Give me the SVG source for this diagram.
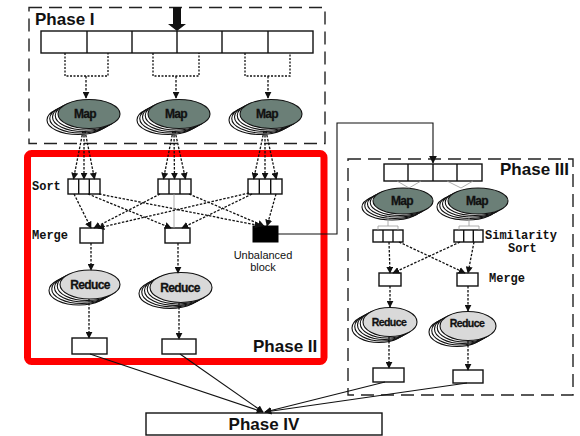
<svg xmlns="http://www.w3.org/2000/svg" width="580" height="436" viewBox="0 0 580 436">
  <style>
    .phase { fill: none; stroke: #222; stroke-width: 1.4; stroke-dasharray: 13 7; }
    .box { fill: #fff; stroke: #111; stroke-width: 1.4; }
    .cell { fill: none; stroke: #111; stroke-width: 1.4; }
    .dot { fill: none; stroke: #111; stroke-width: 1.3; stroke-dasharray: 2 1.5; }
    .dotarrow { fill: none; stroke: #111; stroke-width: 1.3; stroke-dasharray: 2.5 1.5; marker-end: url(#ah); }
    .solid { fill: none; stroke: #111; stroke-width: 1.1; }
    .thin { fill: none; stroke: #999; stroke-width: 0.8; }
    .back { fill: #fff; stroke: #111; stroke-width: 1.1; }
    .map { fill: #6b7f77; stroke: #111; stroke-width: 1.1; }
    .red { fill: #d9d9d9; stroke: #111; stroke-width: 1.1; }
    .title { font-family: "Liberation Sans", Arial, sans-serif; font-weight: bold; font-size: 17px; fill: #111; }
    .mono { font-family: "Liberation Mono", "Courier New", monospace; font-weight: bold; font-size: 12px; fill: #111; }
    .lbl { font-family: "Liberation Sans", Arial, sans-serif; font-weight: bold; font-size: 12px; fill: #111; text-anchor: middle; letter-spacing: -0.6px; stroke: #111; stroke-width: 0.3; }
    .plain { font-family: "Liberation Sans", Arial, sans-serif; font-size: 11px; fill: #111; text-anchor: middle; }
  </style>
  <defs>
    <marker id="ah" viewBox="0 0 10 10" refX="9" refY="5" markerWidth="7" markerHeight="7" markerUnits="userSpaceOnUse" orient="auto">
      <path d="M0,0 L10,5 L0,10 z" fill="#111"/>
    </marker>
    <marker id="ahs" viewBox="0 0 10 10" refX="9" refY="5" markerWidth="8" markerHeight="8" markerUnits="userSpaceOnUse" orient="auto">
      <path d="M0,0 L10,5 L0,10 z" fill="#111"/>
    </marker>
  </defs>

  <!-- Phase I -->
  <g id="phase1">
    <rect class="phase" x="29" y="7.5" width="296" height="136"/>
    <text class="title" x="35" y="25">Phase I</text>
  </g>
  <g id="input-array">
    <rect class="box" x="41" y="31" width="272" height="22"/>
    <path class="cell" d="M87,31V53M132,31V53M177,31V53M222,31V53M268,31V53"/>
  </g>
  <g id="input-arrow">
    <polygon points="173,7 181,7 181,24 186,24 177,31 168,24 173,24" fill="#111"/>
  </g>

  <!-- Map tasks, phase I -->
  <g id="map1">
    <ellipse class="back" cx="78" cy="120" rx="31" ry="14.5"/>
    <ellipse class="back" cx="80.75" cy="118.5" rx="31" ry="14.5"/>
    <ellipse class="back" cx="83.5" cy="117" rx="31" ry="14.5"/>
    <ellipse class="back" cx="86.25" cy="115.5" rx="31" ry="14.5"/>
    <ellipse class="map" cx="89" cy="114" rx="31" ry="14.5"/>
    <text class="lbl" x="85" y="118">Map</text>
  </g>
  <g id="map2">
    <ellipse class="back" cx="168" cy="120" rx="31" ry="14.5"/>
    <ellipse class="back" cx="170.75" cy="118.5" rx="31" ry="14.5"/>
    <ellipse class="back" cx="173.5" cy="117" rx="31" ry="14.5"/>
    <ellipse class="back" cx="176.25" cy="115.5" rx="31" ry="14.5"/>
    <ellipse class="map" cx="179" cy="114" rx="31" ry="14.5"/>
    <text class="lbl" x="176" y="118">Map</text>
  </g>
  <g id="map3">
    <ellipse class="back" cx="260" cy="120" rx="31" ry="14.5"/>
    <ellipse class="back" cx="262.75" cy="118.5" rx="31" ry="14.5"/>
    <ellipse class="back" cx="265.5" cy="117" rx="31" ry="14.5"/>
    <ellipse class="back" cx="268.25" cy="115.5" rx="31" ry="14.5"/>
    <ellipse class="map" cx="271" cy="114" rx="31" ry="14.5"/>
    <text class="lbl" x="267" y="118">Map</text>
  </g>

  <!-- Phase II -->
  <g id="phase2">
    <rect x="27.5" y="153.5" width="296.5" height="208" rx="4" fill="none" stroke="#ff0000" stroke-width="7"/>
    <text class="title" x="253" y="352">Phase II</text>
    <text class="mono" x="32" y="190">Sort</text>
    <text class="mono" x="32" y="239">Merge</text>
  </g>
  <g id="sort1">
    <rect class="box" x="68" y="179" width="32" height="15"/>
    <path class="cell" d="M78.7,179V194M89.3,179V194"/>
  </g>
  <g id="sort2">
    <rect class="box" x="158" y="179" width="33" height="15"/>
    <path class="cell" d="M169,179V194M180,179V194"/>
  </g>
  <g id="sort3">
    <rect class="box" x="248" y="179" width="34" height="15"/>
    <path class="cell" d="M259.3,179V194M270.7,179V194"/>
  </g>
  <g id="merge1"><rect class="box" x="80" y="228" width="23" height="15"/></g>
  <g id="merge2"><rect class="box" x="165" y="228" width="25" height="15"/></g>
  <g id="unbalanced">
    <rect x="253" y="226" width="25" height="16" fill="#000" stroke="#000"/>
    <text class="plain" x="263" y="259">Unbalanced</text>
    <text class="plain" x="263" y="271">block</text>
  </g>
  <g id="reduce1">
    <ellipse class="back" cx="79" cy="290.5" rx="30" ry="14.5"/>
    <ellipse class="back" cx="81.75" cy="289" rx="30" ry="14.5"/>
    <ellipse class="back" cx="84.5" cy="287.5" rx="30" ry="14.5"/>
    <ellipse class="back" cx="87.25" cy="286" rx="30" ry="14.5"/>
    <ellipse class="red" cx="90" cy="284.5" rx="30" ry="14.5"/>
    <text class="lbl" x="90" y="289">Reduce</text>
  </g>
  <g id="reduce2">
    <ellipse class="back" cx="170" cy="293.5" rx="31" ry="15"/>
    <ellipse class="back" cx="172.75" cy="292" rx="31" ry="15"/>
    <ellipse class="back" cx="175.5" cy="290.5" rx="31" ry="15"/>
    <ellipse class="back" cx="178.25" cy="289" rx="31" ry="15"/>
    <ellipse class="red" cx="181" cy="287.5" rx="31" ry="15"/>
    <text class="lbl" x="180" y="292">Reduce</text>
  </g>
  <g id="out1"><rect class="box" x="72" y="338" width="35" height="16"/></g>
  <g id="out2"><rect class="box" x="162" y="339" width="34" height="15"/></g>

  <!-- Phase III -->
  <g id="phase3">
    <rect class="phase" x="348" y="159" width="225" height="236"/>
    <text class="title" x="500" y="175">Phase III</text>
    <text class="mono" x="485" y="239">Similarity</text>
    <text class="mono" x="508" y="252">Sort</text>
    <text class="mono" x="489" y="282">Merge</text>
  </g>
  <g id="array3">
    <rect class="box" x="384" y="164" width="98" height="17"/>
    <path class="cell" d="M408,164V181M433,164V181M457,164V181"/>
  </g>
  <g id="map4">
    <ellipse class="back" cx="392" cy="207" rx="30" ry="13"/>
    <ellipse class="back" cx="394.75" cy="205.5" rx="30" ry="13"/>
    <ellipse class="back" cx="397.5" cy="204" rx="30" ry="13"/>
    <ellipse class="back" cx="400.25" cy="202.5" rx="30" ry="13"/>
    <ellipse class="map" cx="403" cy="201" rx="30" ry="13"/>
    <text class="lbl" x="402" y="205">Map</text>
  </g>
  <g id="map5">
    <ellipse class="back" cx="467" cy="207" rx="30" ry="13"/>
    <ellipse class="back" cx="469.75" cy="205.5" rx="30" ry="13"/>
    <ellipse class="back" cx="472.5" cy="204" rx="30" ry="13"/>
    <ellipse class="back" cx="475.25" cy="202.5" rx="30" ry="13"/>
    <ellipse class="map" cx="478" cy="201" rx="30" ry="13"/>
    <text class="lbl" x="477" y="205">Map</text>
  </g>
  <g id="simsort1">
    <rect class="box" x="373" y="230" width="30" height="12"/>
    <path class="cell" d="M383,230V242M393,230V242"/>
  </g>
  <g id="simsort2">
    <rect class="box" x="454" y="230" width="29" height="12"/>
    <path class="cell" d="M463.7,230V242M473.3,230V242"/>
  </g>
  <g id="merge3"><rect class="box" x="379" y="273" width="22" height="13"/></g>
  <g id="merge4"><rect class="box" x="457" y="273" width="21" height="13"/></g>
  <g id="reduce3">
    <ellipse class="back" cx="379" cy="328" rx="27" ry="14.5"/>
    <ellipse class="back" cx="381.75" cy="326.5" rx="27" ry="14.5"/>
    <ellipse class="back" cx="384.5" cy="325" rx="27" ry="14.5"/>
    <ellipse class="back" cx="387.25" cy="323.5" rx="27" ry="14.5"/>
    <ellipse class="red" cx="390" cy="322" rx="27" ry="14.5"/>
    <text class="lbl" x="389" y="326" style="font-size:10.5px">Reduce</text>
  </g>
  <g id="reduce4">
    <ellipse class="back" cx="457" cy="332" rx="28" ry="14.5"/>
    <ellipse class="back" cx="459.75" cy="330.5" rx="28" ry="14.5"/>
    <ellipse class="back" cx="462.5" cy="329" rx="28" ry="14.5"/>
    <ellipse class="back" cx="465.25" cy="327.5" rx="28" ry="14.5"/>
    <ellipse class="red" cx="468" cy="326" rx="28" ry="14.5"/>
    <text class="lbl" x="467" y="327" style="font-size:10.5px">Reduce</text>
  </g>
  <g id="out3"><rect class="box" x="373" y="368" width="31" height="14"/></g>
  <g id="out4"><rect class="box" x="453" y="370" width="30" height="13"/></g>

  <!-- Phase IV -->
  <g id="phase4">
    <rect class="box" x="146" y="413" width="236" height="22"/>
    <text class="title" x="264" y="430" text-anchor="middle">Phase IV</text>
  </g>

  <!-- Connectors -->
  <g id="connectors">
    <!-- input splits to map tasks -->
    <path class="dot" d="M65,53V76H108V53"/>
    <path class="dot" d="M153,53V76H199V53"/>
    <path class="dot" d="M245,53V76H290V53"/>
    <path class="dotarrow" d="M86,76V98"/>
    <path class="dotarrow" d="M176,76V98"/>
    <path class="dotarrow" d="M268,76V98"/>

    <!-- map output fans into sort buffers -->
    <path class="dotarrow" d="M83,131L73.5,179"/>
    <path class="dotarrow" d="M84,131L84,179"/>
    <path class="dotarrow" d="M85,131L94.5,179"/>
    <path class="dotarrow" d="M173,131L163.5,179"/>
    <path class="dotarrow" d="M174,131L174.5,179"/>
    <path class="dotarrow" d="M175,131L185.5,179"/>
    <path class="dotarrow" d="M264,131L253.7,179"/>
    <path class="dotarrow" d="M265,131L265,179"/>
    <path class="dotarrow" d="M266,131L276.3,179"/>

    <!-- shuffle from sort buffers to merges -->
    <path class="dotarrow" d="M74,194L91,228"/>
    <path class="dotarrow" d="M88,194L171,228"/>
    <path class="dotarrow" d="M99,194L261,226"/>
    <path class="dotarrow" d="M160,194L94,228"/>
    <path class="thin" d="M174,194V228"/>
    <path class="dotarrow" d="M189,194L264,226"/>
    <path class="dotarrow" d="M249,193L98,228"/>
    <path class="dotarrow" d="M252,194L182,228"/>
    <path class="dotarrow" d="M276,194L267,226"/>

    <!-- merge to reduce to output, phase II -->
    <path class="dotarrow" d="M91,243V270"/>
    <path class="dotarrow" d="M178,243V273"/>
    <path class="dotarrow" d="M89,299V338"/>
    <path class="dotarrow" d="M179,303V339"/>

    <!-- unbalanced block rerouted to phase III -->
    <path class="solid" d="M278,234H337V123H433V163" marker-end="url(#ahs)"/>

    <!-- phase III splits to maps -->
    <path class="thin" d="M397,181L409,188L421,181"/>
    <path class="thin" d="M447,181L461,188L473,181"/>
    <path class="thin" d="M378,230V226H398V230M388,226V216"/>
    <path class="thin" d="M459,230V226H479V230M469,226V216"/>

    <!-- similarity sort to merge -->
    <path class="dotarrow" d="M389,242L390,273"/>
    <path class="dotarrow" d="M399,242L465,273"/>
    <path class="dotarrow" d="M460,242L393,273"/>
    <path class="dotarrow" d="M474,242L468,273"/>

    <!-- merge to reduce to output, phase III -->
    <path class="dotarrow" d="M390,286V307"/>
    <path class="dotarrow" d="M468,286V311"/>
    <path class="dotarrow" d="M389,337V368"/>
    <path class="dotarrow" d="M468,341V370"/>

    <!-- outputs to phase IV -->
    <path class="solid" d="M90,354L263,412" marker-end="url(#ah)"/>
    <path class="solid" d="M180,354L263,412" marker-end="url(#ah)"/>
    <path class="solid" d="M385,382L265,412" marker-end="url(#ah)"/>
    <path class="solid" d="M467,383L265,412" marker-end="url(#ah)"/>
  </g>
</svg>
